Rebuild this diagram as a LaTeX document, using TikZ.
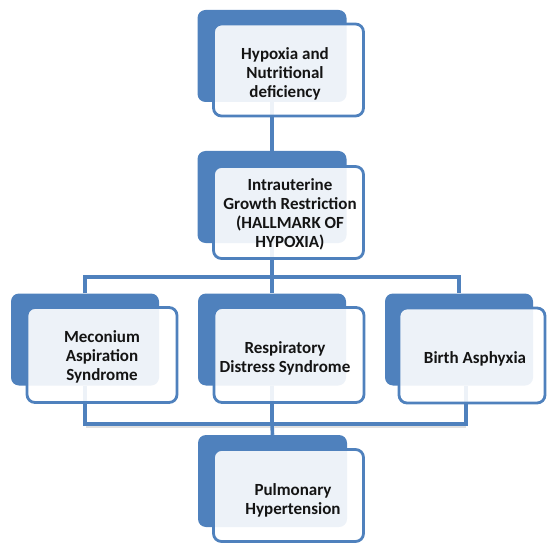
\documentclass[tikz,border=0pt]{standalone}
\usepackage{fontspec}
\setmainfont{Carlito}
\definecolor{sblue}{HTML}{4F81BD}
\definecolor{txt}{HTML}{141414}
\begin{document}
\begin{tikzpicture}[x=1pt,y=-1pt,
  backbox/.style={rectangle,rounded corners=8pt,fill=sblue,minimum width=149pt,minimum height=92pt,inner sep=0pt},
  frontbox/.style={rectangle,rounded corners=8pt,draw=sblue,line width=2.8pt,fill=white,fill opacity=0.9,minimum width=150pt,minimum height=92pt,inner sep=0pt},
  lbl/.style={align=center,inner sep=0pt,font=\fontsize{17}{19}\selectfont\bfseries,text=txt},
  conn/.style={draw=sblue,line width=3.6pt},
  shade/.style={draw=black!40,line width=2.5pt,opacity=0.3}]
\useasboundingbox (0,0) rectangle (548,545);
% back boxes
\node[backbox] (b1) at (272,56) {};
\node[backbox] (b2) at (272,197) {};
\node[backbox,minimum width=148pt] (b3) at (85,339.5) {};
\node[backbox,minimum width=148pt] (b4) at (272,339.5) {};
\node[backbox,minimum width=148pt] (b5) at (459,339.5) {};
\node[backbox] (b6) at (272.5,481) {};
% connectors
\coordinate (t1) at (272,277);
\coordinate (t2) at (272,424);
\draw[conn] (b1.south) -- (b2.north);
\draw[conn] (b2.south) -- (t1);
\draw[conn] (b3.north) -- (b3.north |- t1) -- (b5.north |- t1) -- (b5.north);
\draw[conn] (t1) -- (b4.north);
\draw[shade] ([shift={(1,3)}]b3.south |- t2) -- ([shift={(7,3)}]b5.south |- t2);
\draw[conn] (b3.south) -- (b3.south |- t2) -- ([xshift=7pt]b5.south |- t2) -- ([xshift=7pt]b5.south);
\draw[conn] (b4.south) -- (t2) -- (b6.north);
% front boxes
\node[frontbox] (f1) at (288.5,70) {};
\node[frontbox] (f2) at (288.5,212.5) {};
\node[frontbox,minimum height=95pt] (f3) at (102,355) {};
\node[frontbox,minimum height=95pt] (f4) at (289,355) {};
\node[frontbox,minimum height=95pt,minimum width=146pt] (f5) at (472,355.5) {};
\node[frontbox] (f6) at (288.5,495.5) {};
% labels
\node[lbl] (l1) at (285,74) {Hypoxia and\\Nutritional\\deficiency};
\node[lbl] (l2) at (290,214) {Intrauterine\\Growth Restriction\\(HALLMARK OF\\HYPOXIA)};
\node[lbl] (l3) at (102,357) {Meconium\\Aspiration\\Syndrome};
\node[lbl] (l4) at (285,358) {Respiratory\\Distress Syndrome};
\node[lbl] (l5) at (475,359) {Birth Asphyxia};
\node[lbl] (l6) at (293,500) {Pulmonary\\Hypertension};
\end{tikzpicture}
\end{document}
